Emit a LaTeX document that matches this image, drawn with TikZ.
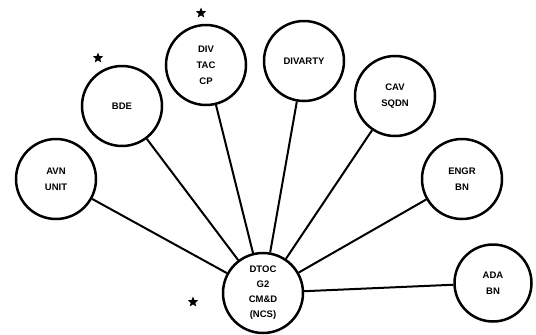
\documentclass[tikz,border=0pt]{standalone}
\usepackage{fontspec}
\setmainfont{Liberation Sans}
\usetikzlibrary{shapes.geometric}
\begin{document}
\begin{tikzpicture}[x=1pt,y=-1pt,
  unit/.style={circle,draw,line width=2.5pt,minimum size=80pt,inner sep=0pt,align=center,
    font=\fontsize{9.5}{16}\selectfont\bfseries},
  link/.style={line width=2pt},
  mark5/.style={star,star points=5,star point ratio=2.3,fill,inner sep=0pt,minimum size=11pt}]
\useasboundingbox (0,0) rectangle (536,335);
\node[unit] (avn) at (56,179) {AVN\\UNIT};
\node[unit] (bde) at (122,106) {BDE};
\node[unit] (tac) at (206,65) {DIV\\TAC\\CP};
\node[unit] (arty) at (304,61) {DIVARTY};
\node[unit] (cav) at (395,96) {CAV\\SQDN};
\node[unit] (engr) at (462,179) {ENGR\\BN};
\node[unit,minimum size=77pt] (ada) at (493,283) {ADA\\BN};
\node[unit,font=\fontsize{9.5}{15}\selectfont\bfseries] (dtoc) at (263,293) {DTOC\\G2\\CM\&D\\(NCS)};
\node[mark5] (s1) at (98,58) {};
\node[mark5] (s2) at (201,13) {};
\node[mark5] (s3) at (193,302) {};
\foreach \n in {avn,bde,tac,arty,cav,engr,ada}
  \draw[link] (\n) -- (dtoc);
\end{tikzpicture}
\end{document}
